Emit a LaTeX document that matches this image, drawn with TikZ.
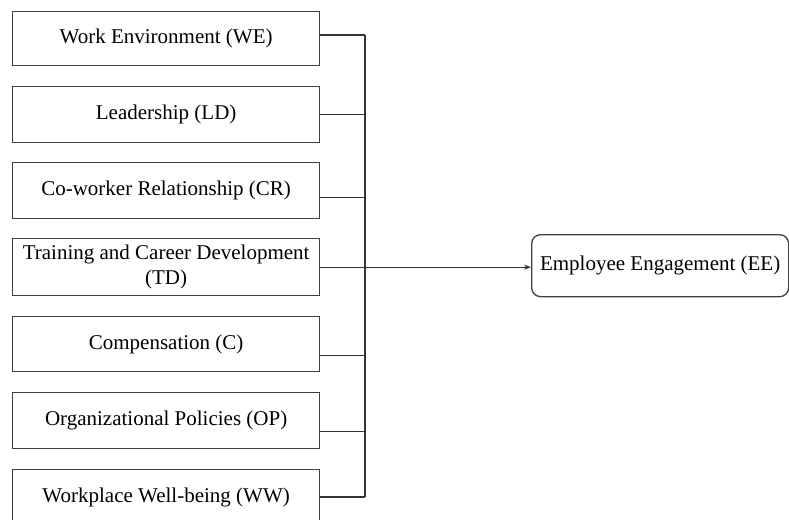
\documentclass[tikz,border=0pt]{standalone}
\usepackage{fontspec}
\setmainfont{Liberation Serif}
\usetikzlibrary{arrows.meta}
\begin{document}
\begin{tikzpicture}[x=1pt,y=-1pt,
  factor/.style={draw=black!75,line width=1.3pt,minimum width=307pt,inner sep=0pt,font=\fontsize{21}{25}\selectfont,align=center,anchor=north west},
  target/.style={draw=black!75,line width=1.3pt,rounded corners=9pt,minimum width=257pt,minimum height=62pt,inner sep=0pt,font=\fontsize{21}{25}\selectfont,anchor=north west},
  link/.style={draw=black!80,line width=1.3pt}]
\clip (0,0) rectangle (789,519);
\node[factor,minimum height=54pt] (we) at (12,11) {Work Environment (WE)};
\node[factor,minimum height=56pt] (ld) at (12,86) {Leadership (LD)};
\node[factor,minimum height=56pt] (cr) at (12,162) {Co-worker Relationship (CR)};
\node[factor,minimum height=57pt] (td) at (12,238) {Training and Career Development\\(TD)};
\node[factor,minimum height=55pt] (c) at (12,316) {Compensation (C)};
\node[factor,minimum height=56pt] (op) at (12,392) {Organizational Policies (OP)};
\node[factor,minimum height=56pt] (ww) at (12,469) {Workplace Well-being (WW)};
\node[target] (ee) at (531,234) {Employee Engagement (EE)};
\coordinate (top) at (365,35);
\coordinate (bot) at (365,497);
\draw[link] (top) -- (bot);
\draw[link] (we.east |- top) -- (top);
\draw[link] (ld.east) -- (ld.east -| top);
\draw[link] ([yshift=-7pt]cr.east) -- ([yshift=-7pt]cr.east -| top);
\draw[link] ([yshift=-11pt]c.east) -- ([yshift=-11pt]c.east -| top);
\draw[link] ([yshift=-11pt]op.east) -- ([yshift=-11pt]op.east -| top);
\draw[link] (ww.east |- bot) -- (bot);
\draw[link,-{Stealth[length=7pt,width=5pt]}] (td.east) -- (td.east -| ee.west);
\end{tikzpicture}
\end{document}
